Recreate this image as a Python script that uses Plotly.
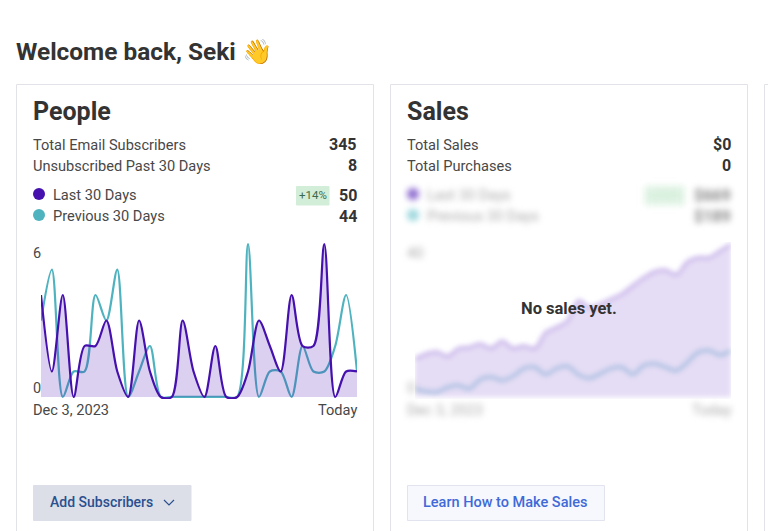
import json
import plotly.graph_objects as go

# --- data ---
people_last = [4, 1, 4, 0, 2, 2, 3, 1, 0, 3, 1, 0, 0, 3, 1, 0, 2, 0, 0, 1, 3, 2, 1, 4, 2, 2, 6, 0, 1, 1]
people_prev = [3, 5, 0, 1, 1, 4, 3, 5, 0, 1, 2, 0, 0, 0, 0, 0, 0, 0, 0, 6, 0, 1, 1, 0, 2, 1, 1, 2, 4, 1]
sales_last = [10.1, 11.4, 12.0, 10.8, 12.9, 13.2, 14.1, 12.9, 14.8, 12.9, 13.6, 12.9, 17.1, 18.5, 20.2,
              25.5, 23.7, 24.6, 25.9, 27.3, 29.5, 31.6, 33.2, 33.6, 32.4, 35.8, 36.9, 36.9, 38.7, 40.4]
sales_prev = [2.2, 1.5, 1.3, 2.6, 3.1, 2.2, 4.7, 5.3, 4.4, 5.5, 7.6, 7.9, 6.0, 7.6, 8.2,
              5.9, 5.0, 6.2, 7.6, 7.9, 6.0, 8.4, 8.8, 7.9, 7.0, 9.2, 11.9, 12.3, 11.1, 12.3]
days = list(range(30))

people_stats = [("Total Email Subscribers", "345"), ("Unsubscribed Past 30 Days", "8")]
sales_stats = [("Total Sales", "$0"), ("Total Purchases", "0")]
people_legend = [("Last 30 Days", "50"), ("Previous 30 Days", "44")]
sales_legend = [("Last 30 Days", "$669"), ("Previous 30 Days", "$189")]

W, H = 768, 531
PURPLE = "#4510ad"
TEAL = "#4fb3bf"
DARK = "#333333"
FONT = "Roboto"


def px(x):
    return x / W


def py(y):
    return 1 - y / H


annotations = []
shapes = []
blur_notes = []
blur_shapes = []


def note(x, y, text, size=14, color=DARK, anchor="left", weight=400, blur=False):
    if blur:
        blur_notes.append(len(annotations))
    annotations.append(dict(
        x=px(x), y=py(y), xref="paper", yref="paper", text=text, showarrow=False,
        xanchor=anchor, yanchor="middle", borderpad=0,
        font=dict(family=FONT, size=size, color=color, weight=weight),
    ))


def box(x0, y0, x1, y1, fill, line=None, blur=False, layer="above"):
    if blur:
        blur_shapes.append(len(shapes))
    shapes.append(dict(
        type="rect", xref="paper", yref="paper", layer=layer,
        x0=px(x0), x1=px(x1), y0=py(y0), y1=py(y1), fillcolor=fill,
        line=dict(color=line or fill, width=1),
    ))


def dot(x, y, r, fill, blur=False):
    if blur:
        blur_shapes.append(len(shapes))
    shapes.append(dict(
        type="circle", xref="paper", yref="paper", layer="above",
        x0=px(x - r), x1=px(x + r), y0=py(y - r), y1=py(y + r), fillcolor=fill, line=dict(width=0),
    ))


# --- page furniture ---
note(15, 51.5, "Welcome back, Seki 👋", size=24.4, weight=700)

for left, right in [(16.5, 373.5), (390.5, 747.5), (764.5, 800)]:
    box(left, 84.5, right, 560, "#ffffff", "#e2e3e9", layer="below")

# people card
note(32, 111.5, "People", size=25, weight=700)
for i, (label, value) in enumerate(people_stats):
    note(32, 145 + i * 21, label, size=14.6, color="#484848")
    note(358, 145 + i * 21, value, size=16, anchor="right", weight=700)
for i, (label, value) in enumerate(people_legend):
    dot(39, 194 + i * 21, 6, [PURPLE, TEAL][i])
    note(52, 195.5 + i * 21, label, size=14.6, color="#484848")
    note(358, 195 + i * 21, value, size=16, anchor="right", weight=700)
box(296.5, 186.5, 329, 205, "#d3eed8")
note(312.5, 195, "+14%", size=11.5, color="#3f6b4a", anchor="center")
note(32, 253, "6", size=14.5, color="#484848")
note(32, 388, "0", size=14.5, color="#484848")
note(32, 410, "Dec 3, 2023", size=14.6, color="#484848")
note(358, 410, "Today", size=14.6, color="#484848", anchor="right")

box(33.5, 485.5, 191, 520.5, "#dcdfe7")
note(49, 502, "Add Subscribers", size=14, color="#2b4f8f", weight=500)
shapes.append(dict(
    type="path", xref="paper", yref="paper", layer="above",
    path=f"M {px(164)} {py(500)} L {px(169)} {py(505)} L {px(174)} {py(500)}",
    line=dict(color="#2b4f8f", width=1.2),
))

# sales card
note(406, 111.5, "Sales", size=25, weight=700)
for i, (label, value) in enumerate(sales_stats):
    note(406, 145 + i * 21, label, size=14.6, color="#484848")
    note(732, 145 + i * 21, value, size=16, anchor="right", weight=700)
for i, (label, value) in enumerate(sales_legend):
    dot(413, 194 + i * 21, 6, ["#8d6bd0", "#9ad6dc"][i], blur=True)
    note(426, 195 + i * 21, label, size=14.6, color="#aaaaaa", blur=True)
    note(732, 195 + i * 21, value, size=16, color="#888888", anchor="right", weight=700, blur=True)
box(645, 186, 684, 205, "#e2f4e6", blur=True)
note(664, 195, "+254%", size=11.5, color="#c5e8cd", anchor="center", blur=True)
note(406, 253, "40", size=14.5, color="#aaaaaa", blur=True)
note(406, 388, "0", size=14.5, color="#aaaaaa", blur=True)
note(406, 410, "Dec 3, 2023", size=14.6, color="#aaaaaa", blur=True)
note(732, 410, "Today", size=14.6, color="#aaaaaa", anchor="right", blur=True)
note(569, 308, "No sales yet.", size=16.5, weight=700, anchor="center")

box(407.5, 485.5, 604.5, 520.5, "#f6f8fd", "#e1e3ee")
note(422, 502, "Learn How to Make Sales", size=14.5, color="#3f6ad8", weight=500)

# --- charts ---
fig = go.Figure()

fig.add_trace(go.Scatter(
    x=days, y=people_prev, mode="lines", xaxis="x", yaxis="y",
    line=dict(color=TEAL, width=2.2, shape="spline", smoothing=0.85),
))
fig.add_trace(go.Scatter(
    x=days, y=people_last, mode="lines", xaxis="x", yaxis="y", fill="tozeroy",
    fillcolor="rgba(74,18,176,0.2)",
    line=dict(color=PURPLE, width=2.2, shape="spline", smoothing=0.85),
))
fig.add_trace(go.Scatter(
    x=days, y=sales_prev, mode="lines", xaxis="x2", yaxis="y2",
    line=dict(color="#a9d6e0", width=3, shape="spline", smoothing=0.85),
))
fig.add_trace(go.Scatter(
    x=days, y=sales_last, mode="lines", xaxis="x2", yaxis="y2", fill="tozeroy",
    fillcolor="rgba(124,82,204,0.2)",
    line=dict(color="#c5b0e8", width=3, shape="spline", smoothing=0.85),
))

hidden = dict(visible=False, fixedrange=True)
fig.update_layout(
    width=W, height=H,
    margin=dict(l=0, r=0, t=0, b=0),
    paper_bgcolor="#ffffff",
    plot_bgcolor="rgba(0,0,0,0)",
    showlegend=False,
    xaxis=dict(domain=[px(41), px(357)], range=[0, 29], **hidden),
    yaxis=dict(domain=[py(399), py(242)], range=[-0.08, 6.08], **hidden),
    xaxis2=dict(domain=[px(415), px(731)], range=[0, 29], anchor="y2", **hidden),
    yaxis2=dict(domain=[py(399), py(242)], range=[-0.5, 41], anchor="x2", **hidden),
    shapes=shapes,
    annotations=annotations,
)

# the sales preview is blurred in the original, plotly has no option for it
post = """
document.body.style.margin = '0';
document.body.style.overflow = 'hidden';
var notes = %s, boxes = %s;
notes.forEach(function (i) {
  var el = document.querySelector('.annotation[data-index="' + i + '"]');
  if (el) el.style.filter = 'blur(3px)';
});
boxes.forEach(function (i) {
  var el = document.querySelector('.layer-above .shapelayer path[data-index="' + i + '"]');
  if (el) el.style.filter = 'blur(3px)';
});
var layers = document.querySelectorAll('.scatterlayer');
if (layers.length > 1) layers[layers.length - 1].style.filter = 'blur(2.5px)';
""" % (json.dumps(blur_notes), json.dumps(blur_shapes))

fig.write_html("out.html", config={"displayModeBar": False}, post_script=post)
